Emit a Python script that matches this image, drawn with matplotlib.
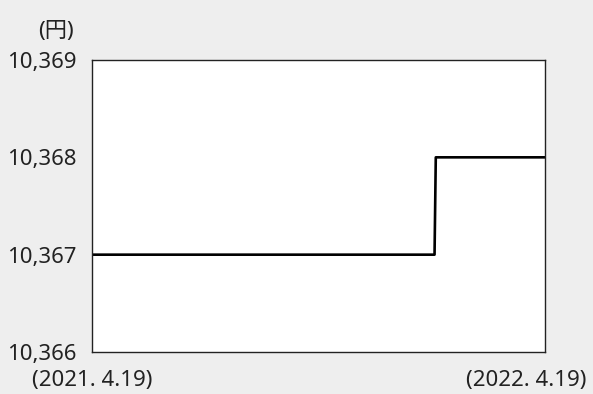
import matplotlib
matplotlib.use("Agg")
import matplotlib.pyplot as plt
import matplotlib.transforms as mtransforms
import pandas as pd

plt.rcParams['font.family'] = ['Noto Sans', 'Noto Sans CJK JP', 'DejaVu Sans']

# data (unit: yen)
dates = pd.to_datetime(["2021-04-19", "2022-01-20", "2022-01-21", "2022-04-19"])
values = [10367, 10367, 10368, 10368]
y_ticks = [10366, 10367, 10368, 10369]
y_labels = ["10,366", "10,367", "10,368", "10,369"]
x_labels = ["(2021. 4.19)", "(2022. 4.19)"]

bg = "#eeeeee"
txt = "#222222"
fs = 16

fig = plt.figure(figsize=(5.93, 3.94), dpi=100, facecolor=bg)
ax = fig.add_axes([92/593, 1 - 352/394, 453/593, 292/394])
ax.set_facecolor("white")

ax.plot(dates, values, color="black", lw=1.9)

ax.set_xlim(dates[0], dates[-1])
ax.set_ylim(y_ticks[0], y_ticks[-1])
ax.set_yticks(y_ticks)
ax.set_yticklabels(y_labels, fontsize=fs, color=txt)
ax.set_xticks([dates[0], dates[-1]])
ax.set_xticklabels(x_labels, fontsize=fs, color=txt)
ax.tick_params(axis="y", length=0, pad=11)
ax.tick_params(axis="x", length=0, pad=13)

# shift the right date label left so it stays inside the figure
lbls = ax.get_xticklabels()
lbls[1].set_ha("right")
lbls[1].set_transform(lbls[1].get_transform() +
                      mtransforms.ScaledTranslation(41/100, 0, fig.dpi_scale_trans))

for s in ax.spines.values():
    s.set_color(txt)
    s.set_linewidth(1.0)

fig.text(56/593, 1 - 32/394, "(円)", fontsize=fs, color=txt,
         ha="center", va="center")

fig.savefig("out.png", dpi=100, facecolor=bg)
